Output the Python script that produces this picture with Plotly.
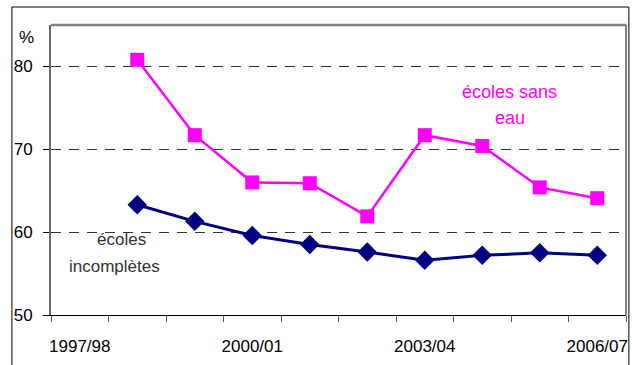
import plotly.graph_objects as go

years = ["1997/98", "1998/99", "1999/00", "2000/01", "2001/02",
         "2002/03", "2003/04", "2004/05", "2005/06", "2006/07"]
tick_labels = ["1997/98", "", "", "2000/01", "", "", "2003/04", "", "", "2006/07"]

sans_eau = [None, 80.8, 71.7, 66.0, 65.9, 61.9, 71.7, 70.4, 65.4, 64.1]
incompletes = [None, 63.3, 61.3, 59.6, 58.5, 57.6, 56.6, 57.2, 57.5, 57.2]

FONT = "Liberation Sans, Arial"

fig = go.Figure()

fig.add_trace(go.Scatter(
    x=years, y=sans_eau, mode="lines+markers",
    line=dict(color="#FF00FF", width=2.5),
    marker=dict(symbol="square", size=14, color="#FF00FF"),
    name="écoles sans eau",
))
fig.add_trace(go.Scatter(
    x=years, y=incompletes, mode="lines+markers",
    line=dict(color="#000080", width=3),
    marker=dict(symbol="diamond", size=15, color="#000080"),
    name="écoles incomplètes",
))

# outer frame
fig.add_shape(type="rect", xref="paper", yref="paper",
              x0=-0.068, x1=1.005, y0=-0.3, y1=1.062,
              line=dict(color="black", width=1), layer="below")

# labels, one line each
fig.add_annotation(x=0.798, y=76.9, xref="paper", yref="y", xanchor="center",
                   text="écoles sans", showarrow=False,
                   font=dict(color="#FF00FF", size=18, family=FONT))
fig.add_annotation(x=0.798, y=73.8, xref="paper", yref="y", xanchor="center",
                   text="eau", showarrow=False,
                   font=dict(color="#FF00FF", size=18, family=FONT))
fig.add_annotation(x=0.122, y=59.1, xref="paper", yref="y", xanchor="center",
                   text="écoles", showarrow=False,
                   font=dict(color="#333333", size=17, family=FONT))
fig.add_annotation(x=0.110, y=55.9, xref="paper", yref="y", xanchor="center",
                   text="incomplètes", showarrow=False,
                   font=dict(color="#333333", size=17, family=FONT))
fig.add_annotation(x=-0.042, y=0.995, xref="paper", yref="paper", xanchor="center",
                   text="%", showarrow=False,
                   font=dict(color="black", size=17, family=FONT))

fig.update_layout(
    width=632, height=365,
    margin=dict(l=51, r=6, t=25, b=50),
    plot_bgcolor="white",
    paper_bgcolor="white",
    showlegend=False,
    font=dict(family=FONT, size=17, color="black"),
    xaxis=dict(
        type="category",
        tickmode="array",
        tickvals=years,
        ticktext=tick_labels,
        tickson="boundaries",
        tickangle=0,
        automargin=False,
        ticks="outside", ticklen=6, tickcolor="#555555",
        ticklabelstandoff=16,
        showgrid=False,
        showline=True, linecolor="black", linewidth=1,
        range=[-0.5, 9.5],
    ),
    yaxis=dict(
        range=[50, 85],
        tickvals=[50, 60, 70, 80],
        automargin=False,
        ticks="outside", ticklen=6, tickcolor="black",
        ticklabelstandoff=7,
        showgrid=True, gridcolor="#333333", griddash="10px,8px", gridwidth=1,
        showline=True, linecolor="#666666", linewidth=2,
        zeroline=False,
    ),
)

# gray border on top and right of the plot area
fig.add_shape(type="line", xref="paper", yref="paper", x0=0, x1=1, y0=1, y1=1,
              line=dict(color="#808080", width=2.5))
fig.add_shape(type="line", xref="paper", yref="paper", x0=1, x1=1, y0=0, y1=1,
              line=dict(color="#808080", width=2))

# page has a default 8px body margin; drop it so the figure sits at 0,0
fig.write_html("out.html", config={"displayModeBar": False},
               post_script="document.body.style.margin='0';")
